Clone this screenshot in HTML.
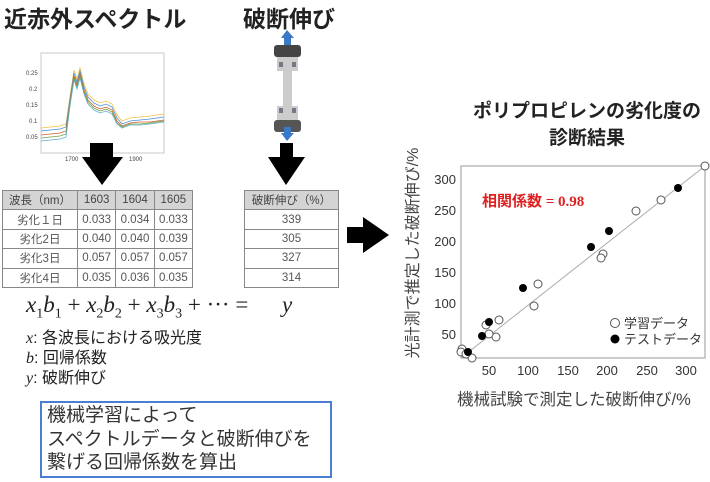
<!DOCTYPE html>
<html><head><meta charset="utf-8"><style>
*{margin:0;padding:0;box-sizing:border-box}
body{width:710px;height:482px;background:#fff;position:relative;overflow:hidden;font-family:"Liberation Sans","Noto Sans CJK JP",sans-serif;color:#222}
.a{position:absolute;white-space:nowrap}
table{border-collapse:collapse;position:absolute;font-size:11.5px;color:#555}
td{border:1px solid #888;text-align:center;height:19.4px;padding:0}
tr.h td{background:#d4d4d4;color:#444}
</style></head><body>
<div class="a" style="left:4px;top:0px;font-size:23px;font-weight:bold;color:#222">近赤外スペクトル</div>
<div class="a" style="left:243px;top:0px;font-size:23px;font-weight:bold;color:#222">破断伸び</div>

<svg class="a" style="left:0;top:0" width="710" height="482">
 <rect x="41" y="53" width="123" height="100" fill="#fff" stroke="#bbb" stroke-width="0.8"/>
 <g font-size="6" fill="#444" font-family="Liberation Sans">
  <text x="26" y="75">0.25</text><text x="29" y="91">0.2</text><text x="26" y="107">0.15</text><text x="29" y="123">0.1</text><text x="26" y="139">0.05</text>
  <text x="65" y="161">1700</text><text x="129" y="161">1900</text></g>
 <g fill="none" stroke-width="0.8">
  <polyline stroke="#f0c040" points="41,128 60,126 66,124 70,96 74,70 77,79 80,68 84,84 88,94 94,100 100,103 106,101 112,104 117,115 122,121 130,118 140,117 150,116 164,114"/>
  <polyline stroke="#4a90d0" points="41,131 60,129 66,127 70,99 74,73 77,82 80,71 84,87 88,97 94,103 100,106 106,104 112,107 117,118 122,124 130,121 140,120 150,119 164,117"/>
  <polyline stroke="#d06030" points="41,135 60,133 66,131 70,102 74,76 77,85 80,74 84,90 88,100 94,106 100,109 106,107 112,110 117,121 122,126 130,123 140,122 150,122 164,120"/>
  <polyline stroke="#70a040" points="41,138 60,136 66,134 70,104 74,78 77,87 80,76 84,92 88,102 94,108 100,111 106,109 112,112 117,123 122,127 130,124 140,124 150,123 164,121"/>
  <polyline stroke="#60b0d0" points="41,141 60,139 66,137 70,106 74,80 77,89 80,78 84,94 88,104 94,110 100,113 106,111 112,114 117,124 122,128 130,125 140,125 150,124 164,122"/>
 </g>
 <polygon points="90,143 113,143 113,157 123,157 102,185 82,157 90,157" fill="#000"/>
 <polygon points="280,143 293,143 293,157 305,157 286,185 268,157 280,157" fill="#000"/>
 <polygon points="284,45 284,38 281,38 287,30 294,38 291,38 291,45" fill="#3a78c8"/>
 <rect x="274" y="45" width="27" height="12" rx="3" fill="#444"/>
 <rect x="277" y="57" width="21" height="14" fill="#ccc"/>
 <rect x="283" y="70" width="9" height="40" fill="#ccc"/>
 <rect x="277" y="106" width="21" height="14" fill="#ccc"/>
 <rect x="279" y="62" width="4" height="5" fill="#778"/><rect x="292" y="62" width="4" height="5" fill="#778"/>
 <rect x="279" y="108" width="4" height="5" fill="#778"/><rect x="292" y="108" width="4" height="5" fill="#778"/>
 <rect x="274" y="120" width="27" height="12" rx="3" fill="#555"/>
 <polygon points="284,127 291,127 291,133 294,133 287,141 281,133 284,133" fill="#3a78c8"/>
 <polygon points="347,227 363,227 363,217 389,235 363,253 363,243 347,243" fill="#000"/>
</svg>

<table style="left:2px;top:190px;width:191px">
<tr class="h"><td style="width:75px">波長（nm）</td><td>1603</td><td>1604</td><td>1605</td></tr>
<tr><td>劣化１日</td><td>0.033</td><td>0.034</td><td>0.033</td></tr>
<tr><td>劣化2日</td><td>0.040</td><td>0.040</td><td>0.039</td></tr>
<tr><td>劣化3日</td><td>0.057</td><td>0.057</td><td>0.057</td></tr>
<tr><td>劣化4日</td><td>0.035</td><td>0.036</td><td>0.035</td></tr>
</table>
<table style="left:244px;top:190px;width:95px">
<tr class="h"><td>破断伸び（%）</td></tr><tr><td>339</td></tr><tr><td>305</td></tr><tr><td>327</td></tr><tr><td>314</td></tr>
</table>

<div class="a" style="left:26px;top:292px;font-family:'Liberation Serif',serif;font-size:23px;font-style:italic">x<sub style="font-size:14px;font-style:normal">1</sub>b<sub style="font-size:14px;font-style:normal">1</sub><span style="font-style:normal"> + </span>x<sub style="font-size:14px;font-style:normal">2</sub>b<sub style="font-size:14px;font-style:normal">2</sub><span style="font-style:normal"> + </span>x<sub style="font-size:14px;font-style:normal">3</sub>b<sub style="font-size:14px;font-style:normal">3</sub><span style="font-style:normal"> + ···  =</span></div>
<div class="a" style="left:282px;top:292px;font-family:'Liberation Serif',serif;font-size:23px;font-style:italic">y</div>
<div class="a" style="left:26px;top:329px;font-size:16px;line-height:20px"><i style="font-family:'Liberation Serif',serif">x</i>: 各波長における吸光度<br><i style="font-family:'Liberation Serif',serif">b</i>: 回帰係数<br><i style="font-family:'Liberation Serif',serif">y</i>: 破断伸び</div>
<div class="a" style="left:40px;top:401px;width:292px;height:77px;border:2px solid #4a7ed0;font-size:19px;line-height:23.5px;padding:1px 0 0 5px;color:#333">機械学習によって<br>スペクトルデータと破断伸びを<br>繋げる回帰係数を算出</div>

<div class="a" style="left:468px;top:98px;width:238px;text-align:center;font-size:19px;font-weight:bold;line-height:27px">ポリプロピレンの劣化度の<br>診断結果</div>
<div class="a" style="left:411px;top:253px;font-size:16px;color:#444;transform:translate(-50%,-50%) rotate(-90deg);transform-origin:center">光計測で推定した破断伸び/%</div>
<div class="a" style="left:457px;top:386px;font-size:16.5px;color:#444">機械試験で測定した破断伸び/%</div>

<svg class="a" style="left:0;top:0" width="710" height="482">
 <rect x="461" y="166" width="244" height="192" fill="none" stroke="#999" stroke-width="1"/>
 <line x1="461" y1="358" x2="705" y2="166" stroke="#aaa" stroke-width="1"/>
 <g font-size="13" fill="#333" font-family="Liberation Sans" text-anchor="end">
  <text x="456" y="184">300</text><text x="456" y="215">250</text><text x="456" y="246">200</text><text x="456" y="277">150</text><text x="456" y="308">100</text><text x="456" y="339">50</text></g>
 <g font-size="13" fill="#333" font-family="Liberation Sans" text-anchor="middle">
  <text x="489" y="375">50</text><text x="528" y="375">100</text><text x="568" y="375">150</text><text x="607" y="375">200</text><text x="647" y="375">250</text><text x="686" y="375">300</text></g>
 <text x="482" y="206" font-size="15" font-weight="bold" fill="#e02020" font-family="Liberation Serif,Noto Sans CJK JP,serif">相関係数 = 0.98</text>
 <g fill="#fff" stroke="#555" stroke-width="1">
  <circle cx="705" cy="166" r="4"/><circle cx="661" cy="200" r="4"/><circle cx="636" cy="211" r="4"/><circle cx="603" cy="254" r="4"/><circle cx="601" cy="258" r="4"/>
  <circle cx="538" cy="284" r="4"/><circle cx="534" cy="306" r="4"/><circle cx="499" cy="320" r="4"/><circle cx="486" cy="325" r="4"/><circle cx="496" cy="337" r="4"/>
  <circle cx="489" cy="334" r="4"/><circle cx="462" cy="349" r="4"/><circle cx="461" cy="352" r="4"/><circle cx="472" cy="358" r="4"/><circle cx="466" cy="354" r="4"/>
  <circle cx="615" cy="323" r="4.5"/></g>
 <g fill="#000">
  <circle cx="678" cy="188" r="4"/><circle cx="609" cy="231" r="4"/><circle cx="591" cy="247" r="4"/><circle cx="523" cy="288" r="4"/><circle cx="489" cy="322" r="4"/>
  <circle cx="482" cy="336" r="4"/><circle cx="468" cy="352" r="4"/><circle cx="615" cy="339" r="4.5"/></g>
 <g font-size="13" fill="#333" font-family="Liberation Sans,Noto Sans CJK JP,sans-serif">
  <text x="624" y="328">学習データ</text><text x="624" y="344">テストデータ</text></g>
</svg>
</body></html>
